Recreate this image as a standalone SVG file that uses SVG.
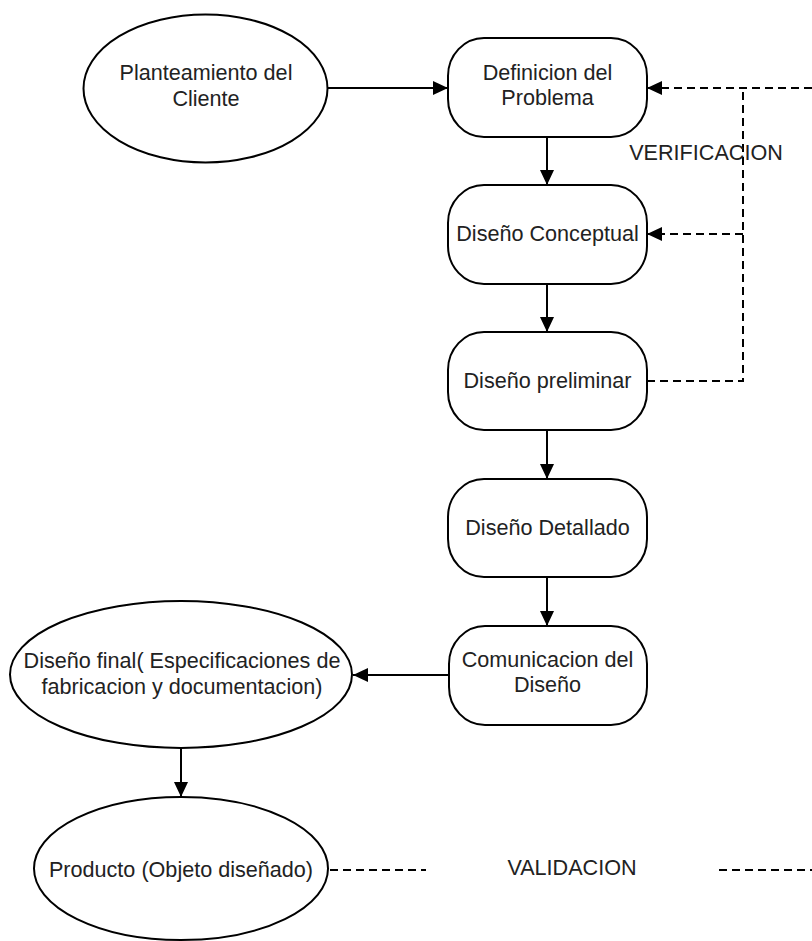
<svg xmlns="http://www.w3.org/2000/svg" width="812" height="941" viewBox="0 0 812 941">
<style>
.shape{fill:#fff;stroke:#000;stroke-width:2}
.lbl{font-family:"Liberation Sans",Arial,sans-serif;font-size:21.6px;fill:#222;text-anchor:middle}
.conn{fill:none;stroke:#000;stroke-width:2}
.dash{fill:none;stroke:#000;stroke-width:2;stroke-dasharray:8,5}
</style>
<defs>
<marker id="arr" viewBox="0 0 15 14" refX="15" refY="7" markerWidth="15" markerHeight="14" markerUnits="userSpaceOnUse" orient="auto">
<path d="M0,0 L15,7 L0,14 z" fill="#000"/>
</marker>
</defs>
<rect width="812" height="941" fill="#fff"/>
<g id="connectors">
<path class="conn" d="M328,88 H448" marker-end="url(#arr)"/>
<path class="conn" d="M547,137 V185" marker-end="url(#arr)"/>
<path class="conn" d="M547,284 V332" marker-end="url(#arr)"/>
<path class="conn" d="M547,430 V479" marker-end="url(#arr)"/>
<path class="conn" d="M547,577 V626" marker-end="url(#arr)"/>
<path class="conn" d="M449,675 H353" marker-end="url(#arr)"/>
<path class="conn" d="M181,748 V797" marker-end="url(#arr)"/>
<path class="dash" d="M647,381 H743 V88"/>
<path class="dash" d="M812,88 H647" marker-end="url(#arr)"/>
<path class="dash" d="M743,234 H647" marker-end="url(#arr)"/>
<path class="dash" d="M330,870 H426"/>
<path class="dash" d="M719,870 H812"/>
<text class="lbl" x="706" y="160">VERIFICACION</text>
<text class="lbl" x="572" y="875">VALIDACION</text>
</g>
<g id="n-planteamiento">
<ellipse class="shape" cx="205.5" cy="88.5" rx="122" ry="74"/>
<text class="lbl" x="206" y="80">Planteamiento del</text>
<text class="lbl" x="206" y="106">Cliente</text>
</g>
<g id="n-definicion">
<rect class="shape" x="448" y="38" width="199" height="99" rx="36" ry="38"/>
<text class="lbl" x="547.5" y="80">Definicion del</text>
<text class="lbl" x="547.5" y="105">Problema</text>
</g>
<g id="n-conceptual">
<rect class="shape" x="448" y="185" width="199" height="99" rx="36" ry="38"/>
<text class="lbl" x="547.5" y="241">Diseño Conceptual</text>
</g>
<g id="n-preliminar">
<rect class="shape" x="448" y="332" width="199" height="98" rx="36" ry="38"/>
<text class="lbl" x="547.5" y="388">Diseño preliminar</text>
</g>
<g id="n-detallado">
<rect class="shape" x="448" y="479" width="199" height="98" rx="36" ry="38"/>
<text class="lbl" x="547.5" y="535">Diseño Detallado</text>
</g>
<g id="n-comunicacion">
<rect class="shape" x="449" y="626" width="198" height="99" rx="36" ry="38"/>
<text class="lbl" x="547.5" y="667">Comunicacion del</text>
<text class="lbl" x="547.5" y="692">Diseño</text>
</g>
<g id="n-final">
<ellipse class="shape" cx="181" cy="674.5" rx="171" ry="73.5"/>
<text class="lbl" x="182" y="668">Diseño final( Especificaciones de</text>
<text class="lbl" x="182" y="694">fabricacion y documentacion)</text>
</g>
<g id="n-producto">
<ellipse class="shape" cx="181" cy="868.5" rx="147" ry="71.5"/>
<text class="lbl" x="181" y="877">Producto (Objeto diseñado)</text>
</g>
</svg>
